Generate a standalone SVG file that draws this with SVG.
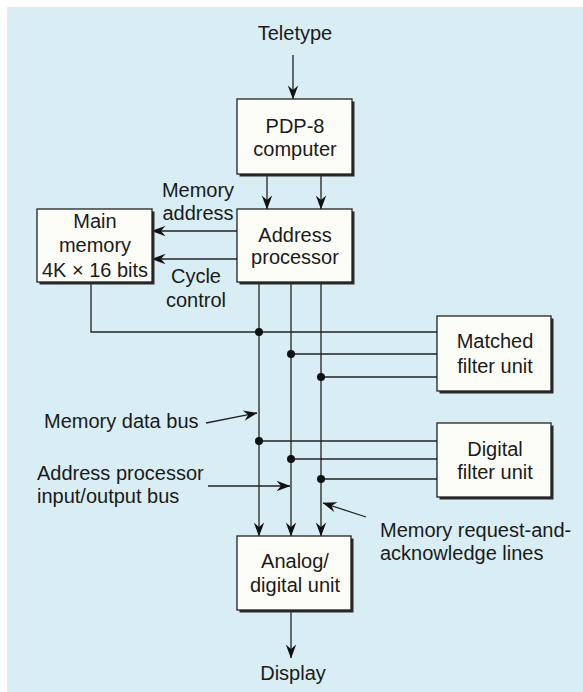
<svg xmlns="http://www.w3.org/2000/svg" width="583" height="692" viewBox="0 0 583 692">
  <defs>
    <style>
      .bg { fill: #d8eef4; }
      .shadow { fill: #2a2a2a; }
      .box { fill: #fdfdf7; stroke: #222; stroke-width: 1.3; }
      .wire { fill: none; stroke: #222; stroke-width: 1.3; }
      .dot { fill: #111; }
      text { font-family: "Liberation Sans", Arial, sans-serif; font-size: 20px; fill: #1a1a1a; }
      .c { text-anchor: middle; }
    </style>
    <marker id="arrow" markerUnits="userSpaceOnUse" markerWidth="16" markerHeight="12" refX="14" refY="6" orient="auto" viewBox="0 0 16 12">
      <path d="M14.5,6 L0.5,0.8 L5,6 L0.5,11.2 Z" fill="#111"/>
    </marker>
  </defs>

  <rect width="583" height="692" fill="#ffffff"/>
  <rect class="bg" x="7" y="7" width="576" height="685"/>

  <!-- connectors -->
  <g id="connectors">
    <path class="wire" d="M293,55 V99" marker-end="url(#arrow)"/>
    <path class="wire" d="M267,174 V209" marker-end="url(#arrow)"/>
    <path class="wire" d="M321,174 V209" marker-end="url(#arrow)"/>
    <path class="wire" d="M237,231 H152" marker-end="url(#arrow)"/>
    <path class="wire" d="M237,259 H152" marker-end="url(#arrow)"/>
    <path class="wire" d="M259,282 V536" marker-end="url(#arrow)"/>
    <path class="wire" d="M291,282 V536" marker-end="url(#arrow)"/>
    <path class="wire" d="M321,282 V536" marker-end="url(#arrow)"/>
    <path class="wire" d="M91,282 V332 H437"/>
    <path class="wire" d="M291,354 H437"/>
    <path class="wire" d="M321,377 H437"/>
    <path class="wire" d="M259,441 H437"/>
    <path class="wire" d="M291,459 H437"/>
    <path class="wire" d="M321,479 H437"/>
    <path class="wire" d="M291,610 V658" marker-end="url(#arrow)"/>
    <path class="wire" d="M206,423 L257,413" marker-end="url(#arrow)"/>
    <path class="wire" d="M208,486 H290" marker-end="url(#arrow)"/>
    <path class="wire" d="M366,517 L323,503" marker-end="url(#arrow)"/>
    <circle class="dot" cx="259" cy="332" r="4"/>
    <circle class="dot" cx="291" cy="354" r="4"/>
    <circle class="dot" cx="321" cy="377" r="4"/>
    <circle class="dot" cx="259" cy="441" r="4"/>
    <circle class="dot" cx="291" cy="459" r="4"/>
    <circle class="dot" cx="321" cy="479" r="4"/>
  </g>

  <!-- nodes -->
  <g id="teletype">
    <text class="c" x="295" y="40">Teletype</text>
  </g>

  <g id="pdp8">
    <rect class="shadow" x="239.5" y="101.5" width="115" height="75"/>
    <rect class="box" x="237" y="99" width="115" height="75"/>
    <text class="c" x="295" y="133">PDP-8</text>
    <text class="c" x="295" y="156">computer</text>
  </g>

  <g id="address-processor">
    <rect class="shadow" x="239.5" y="211.5" width="115" height="73"/>
    <rect class="box" x="237" y="209" width="115" height="73"/>
    <text class="c" x="295" y="242">Address</text>
    <text class="c" x="295" y="264">processor</text>
  </g>

  <g id="main-memory">
    <rect class="shadow" x="39.5" y="211.5" width="115" height="73"/>
    <rect class="box" x="37" y="209" width="115" height="73"/>
    <text class="c" x="95" y="228">Main</text>
    <text class="c" x="95" y="252">memory</text>
    <text class="c" x="95" y="277">4K × 16 bits</text>
  </g>

  <g id="memory-address-label">
    <text class="c" x="198" y="197">Memory</text>
    <text class="c" x="198" y="220">address</text>
  </g>

  <g id="cycle-control-label">
    <text class="c" x="196" y="283">Cycle</text>
    <text class="c" x="196" y="307">control</text>
  </g>

  <g id="matched-filter">
    <rect class="shadow" x="439.5" y="318.5" width="114" height="75"/>
    <rect class="box" x="437" y="316" width="114" height="75"/>
    <text class="c" x="495" y="348">Matched</text>
    <text class="c" x="495" y="373">filter unit</text>
  </g>

  <g id="digital-filter">
    <rect class="shadow" x="439.5" y="425.5" width="114" height="74"/>
    <rect class="box" x="437" y="423" width="114" height="74"/>
    <text class="c" x="495" y="456">Digital</text>
    <text class="c" x="495" y="479">filter unit</text>
  </g>

  <g id="memory-data-bus-label">
    <text x="44" y="428">Memory data bus</text>
  </g>

  <g id="io-bus-label">
    <text x="37" y="480">Address processor</text>
    <text x="37" y="503">input/output bus</text>
  </g>

  <g id="request-lines-label">
    <text x="380" y="537">Memory request-and-</text>
    <text x="380" y="560">acknowledge lines</text>
  </g>

  <g id="analog-digital">
    <rect class="shadow" x="239.5" y="538.5" width="114" height="74"/>
    <rect class="box" x="237" y="536" width="114" height="74"/>
    <text class="c" x="295" y="568">Analog/</text>
    <text class="c" x="295" y="592">digital unit</text>
  </g>

  <g id="display">
    <text class="c" x="293" y="680">Display</text>
  </g>
</svg>
